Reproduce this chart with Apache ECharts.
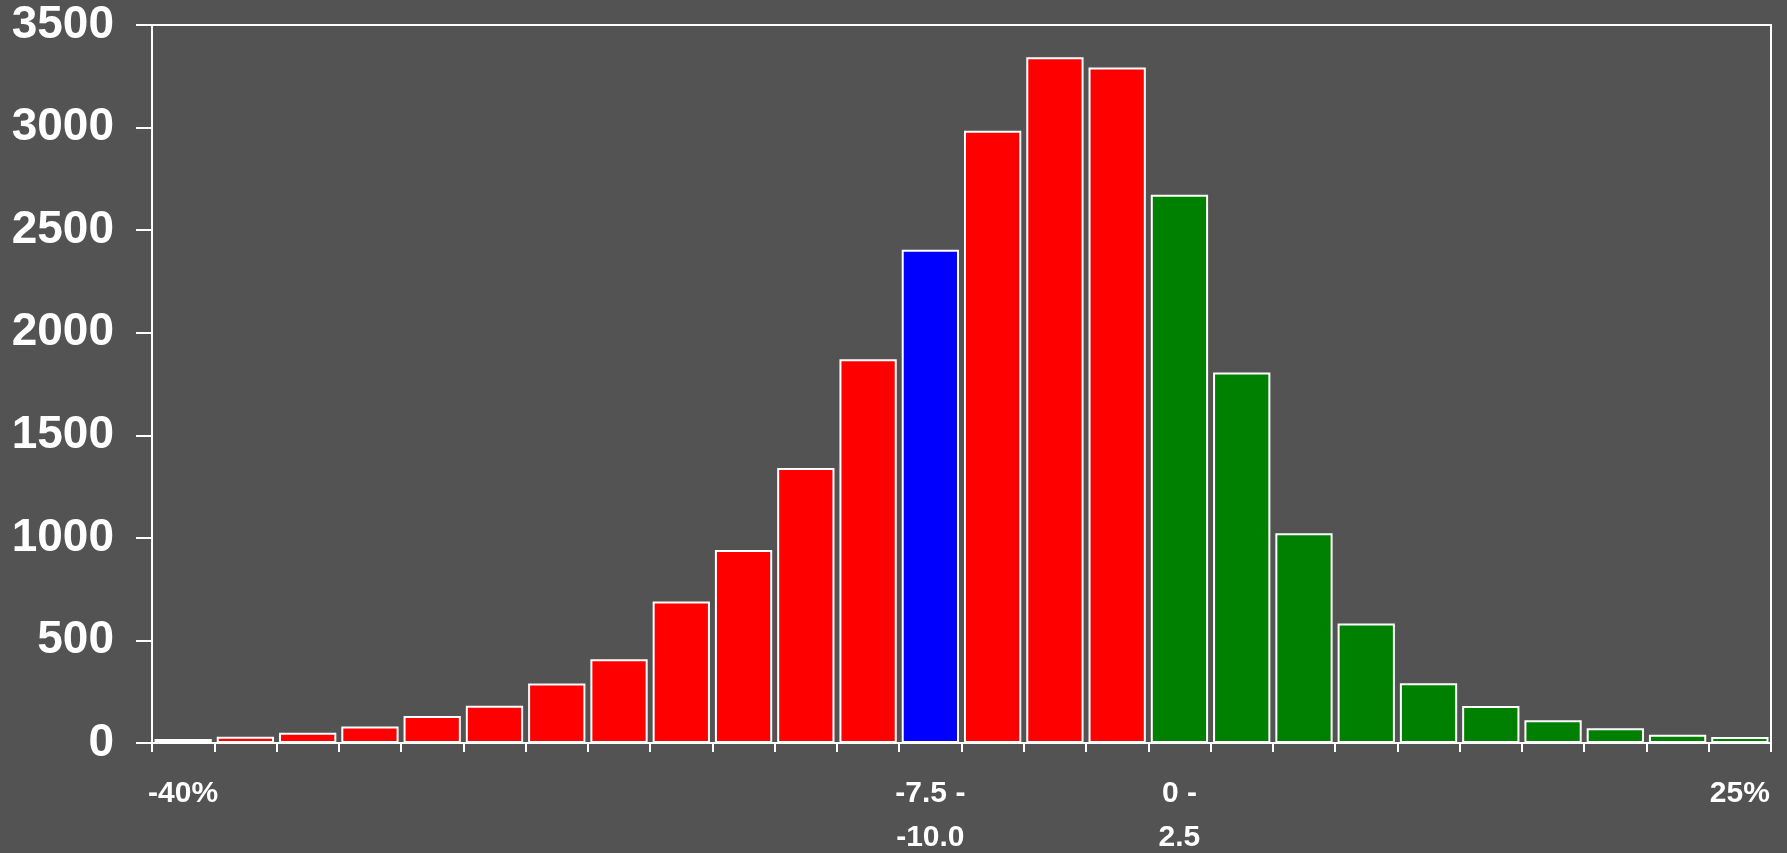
<!DOCTYPE html>
<html>
<head>
<meta charset="utf-8">
<script src="https://cdn.jsdelivr.net/npm/echarts@6/dist/echarts.min.js"></script>
<style>
	html, body { margin: 0; padding: 0; background: #535353; }
	#chart { width: 1787px; height: 853px; }
</style>
</head>
<body>
<div id="chart"></div>
<script>
	// bins of 2.5% from -40% up to 25%
	var xLabels = ['-40%', '', '', '', '', '', '', '', '', '', '', '', '-7.5 -\n-10.0',
		'', '', '', '0 -\n2.5', '', '', '', '', '', '', '', '', '25%'];
	var counts = [20, 30, 50, 80, 132, 181, 290, 408, 690, 941, 1341, 1871, 2405,
		2984, 3343, 3293, 2672, 1806, 1022, 583, 291, 180, 111, 72, 40, 29];
	// n = below current bin, c = current bin, p = positive side
	var groups = ['n', 'n', 'n', 'n', 'n', 'n', 'n', 'n', 'n', 'n', 'n', 'n', 'c',
		'n', 'n', 'n', 'p', 'p', 'p', 'p', 'p', 'p', 'p', 'p', 'p', 'p'];
	var yTicks = [0, 500, 1000, 1500, 2000, 2500, 3000, 3500];

	var groupColor = { n: '#ff0000', c: '#0000ff', p: '#008000' };

	var data = [];
	for (var i = 0; i < counts.length; i++) {
		data.push({
			value: counts[i],
			itemStyle: { color: groupColor[groups[i]] }
		});
	}

	var option = {
		backgroundColor: '#535353',
		animation: false,
		grid: {
			left: 152,
			right: 16,
			top: 25,
			bottom: 110,
			outerBoundsMode: 'none',
			containLabel: false,
			show: true,
			borderColor: '#ffffff',
			borderWidth: 2,
			backgroundColor: 'transparent'
		},
		xAxis: {
			type: 'category',
			data: xLabels,
			axisLine: { lineStyle: { color: '#ffffff', width: 2 } },
			axisTick: { show: true, length: 9, lineStyle: { color: '#ffffff', width: 2 } },
			axisLabel: {
				interval: 0,
				color: '#ffffff',
				fontFamily: 'Liberation Sans, Arial, sans-serif',
				fontWeight: 'bold',
				fontSize: 30,
				lineHeight: 44,
				margin: 29
			}
		},
		yAxis: {
			type: 'value',
			min: yTicks[0],
			max: yTicks[yTicks.length - 1],
			interval: 500,
			splitLine: { show: false },
			axisLine: { show: true, lineStyle: { color: '#ffffff', width: 2 } },
			axisTick: { show: true, length: 16, lineStyle: { color: '#ffffff', width: 2 } },
			axisLabel: {
				color: '#ffffff',
				fontFamily: 'Liberation Sans, Arial, sans-serif',
				fontWeight: 'bold',
				fontSize: 46,
				margin: 38,
				formatter: function (v) { return String(v); }
			}
		},
		series: [{
			type: 'bar',
			data: data,
			barCategoryGap: '8%',
			itemStyle: { borderColor: '#ffffff', borderWidth: 2 }
		}]
	};

	var myChart = echarts.init(document.getElementById('chart'));
	myChart.setOption(option);
</script>
</body>
</html>
